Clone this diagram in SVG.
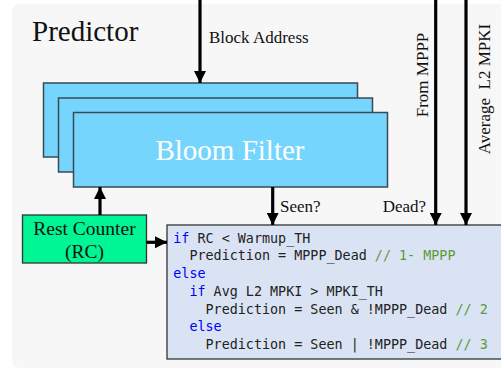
<svg xmlns="http://www.w3.org/2000/svg" width="501" height="370" viewBox="0 0 501 370">
<defs>
<style>
.bf{fill:#76d5fd;stroke:#3a4a55;stroke-width:1.5}
.serif{font-family:"Liberation Serif","Times New Roman",serif;fill:#111}
.code{font-family:"DejaVu Sans Mono","Liberation Mono",monospace;font-size:13.4px;fill:#222;white-space:pre}
.kw{fill:#0000ff}
.cm{fill:#5a9a3a}
.wire{stroke:#000;stroke-width:3.2;fill:none}
</style>
<marker id="ah" viewBox="0 0 12 12" refX="12" refY="6" markerWidth="12" markerHeight="12" markerUnits="userSpaceOnUse" orient="auto">
<path d="M0,0 L12,6 L0,12 Z" fill="#000"/>
</marker>
</defs>
<rect x="12" y="4" width="510" height="364" rx="7" fill="#f7f7f7"/>
<text class="serif" x="32" y="41" font-size="29">Predictor</text>
<g id="bloom-filter">
<rect class="bf" x="43.5" y="83" width="314" height="74"/>
<rect class="bf" x="58.5" y="98" width="314" height="74"/>
<rect class="bf" x="73.5" y="112.5" width="314" height="74.5"/>
<text x="230" y="160" font-size="29" text-anchor="middle" font-family="Liberation Serif,Times New Roman,serif" fill="#fff">Bloom Filter</text>
</g>
<g id="rest-counter">
<rect x="22.5" y="215" width="124" height="48" fill="#00f595" stroke="#333" stroke-width="1.3"/>
<text class="serif" x="84.5" y="235" font-size="19.5" text-anchor="middle">Rest Counter</text>
<text class="serif" x="84.5" y="258" font-size="19.5" text-anchor="middle">(RC)</text>
</g>
<g id="prediction-logic">
<rect x="167" y="225" width="360" height="134" fill="#dae3f3" stroke="#333" stroke-width="1.3"/>
<text class="code" x="173.3" y="242.5"><tspan class="kw">if</tspan> RC &lt; Warmup_TH</text>
<text class="code" x="173.3" y="260.3">  Prediction = MPPP_Dead <tspan class="cm">// 1- MPPP</tspan></text>
<text class="code" x="173.3" y="278"><tspan class="kw">else</tspan></text>
<text class="code" x="173.3" y="295.8">  <tspan class="kw">if</tspan> Avg L2 MPKI &gt; MPKI_TH</text>
<text class="code" x="173.3" y="313.5">    Prediction = Seen &amp; !MPPP_Dead <tspan class="cm">// 2</tspan></text>
<text class="code" x="173.3" y="331.2">  <tspan class="kw">else</tspan></text>
<text class="code" x="173.3" y="349">    Prediction = Seen | !MPPP_Dead <tspan class="cm">// 3</tspan></text>
</g>
<g id="connectors">
<line class="wire" x1="200" y1="0" x2="200" y2="83" marker-end="url(#ah)"/>
<line class="wire" x1="272.7" y1="187" x2="272.7" y2="225" marker-end="url(#ah)"/>
<line class="wire" x1="435.7" y1="0" x2="435.7" y2="225" marker-end="url(#ah)"/>
<line class="wire" x1="466" y1="0" x2="466" y2="225" marker-end="url(#ah)"/>
<line class="wire" x1="100" y1="215" x2="100" y2="187" marker-end="url(#ah)"/>
<line class="wire" x1="146.5" y1="242.3" x2="167" y2="242.3" marker-end="url(#ah)"/>
</g>
<g id="labels">
<text class="serif" x="209" y="43" font-size="17">Block Address</text>
<text class="serif" x="280" y="212" font-size="17">Seen?</text>
<text class="serif" x="382.7" y="212" font-size="17">Dead?</text>
<text class="serif" font-size="17" text-anchor="middle" transform="translate(428,75) rotate(-90)">From MPPP</text>
<text class="serif" font-size="17" text-anchor="middle" xml:space="preserve" style="white-space:pre" transform="translate(490,89) rotate(-90)">Average  L2 MPKI</text>
</g>
</svg>
